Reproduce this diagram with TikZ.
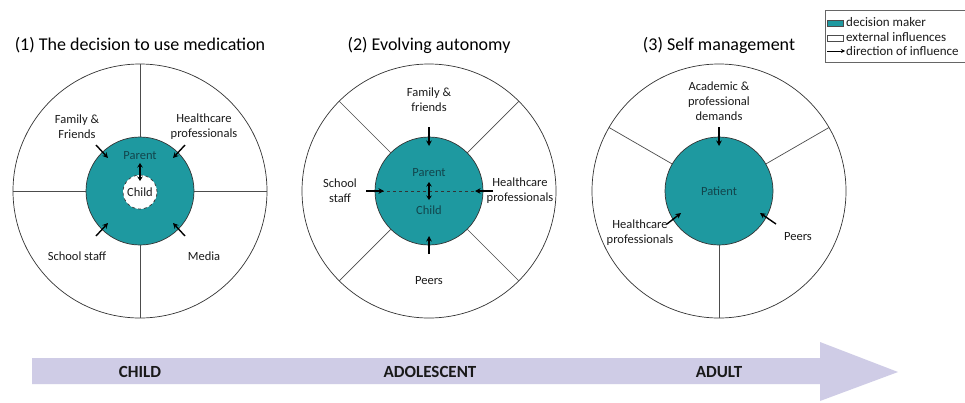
\documentclass[tikz,border=0pt]{standalone}
\usepackage{fontspec}
\setmainfont{Carlito}
\usetikzlibrary{arrows.meta}
\definecolor{teal1}{HTML}{1E99A0}
\definecolor{tealtxt}{HTML}{12454C}
\definecolor{lav}{HTML}{CFCCE6}
\definecolor{txt}{HTML}{1A1A1A}
\tikzset{
  outer/.style={circle, draw=black!80, line width=0.7pt, minimum size=254pt, inner sep=0pt, outer sep=0pt},
  inner/.style={circle, draw=black!80, fill=teal1, line width=0.7pt, minimum size=108pt, inner sep=0pt, outer sep=0pt},
  divider/.style={draw=black!70, line width=0.7pt},
  lbl/.style={font=\fontsize{12.5}{15}\selectfont, text=txt, align=center, inner sep=0pt},
  dm/.style={font=\fontsize{12.5}{15}\selectfont, text=tealtxt, inner sep=0pt},
  ttl/.style={font=\fontsize{18}{21}\selectfont, text=black, inner sep=0pt},
  infl/.style={-{Stealth[length=5.5pt,width=5.5pt]}, line width=1.4pt, black},
  both/.style={{Stealth[length=4.5pt,width=5.5pt]}-{Stealth[length=4.5pt,width=5.5pt]}, line width=1.4pt, black},
  stage/.style={font=\fontsize{17}{20}\selectfont\bfseries, text=black!90, inner sep=0pt},
  leg/.style={font=\fontsize{13}{15}\selectfont, text=txt, anchor=west, inner sep=0pt}
}
\begin{document}
\begin{tikzpicture}[x=1pt,y=-1pt]
\useasboundingbox (0,0) rectangle (965,402);
\fill[white] (0,0) rectangle (965,402);

% Titles
\node[ttl] (t1) at (140,45) {(1) The decision to use medication};
\node[ttl] (t2) at (429,45) {(2) Evolving autonomy};
\node[ttl] (t3) at (719,45) {(3) Self management};

% ---------- Circle 1 ----------
\node[outer] (o1) at (140,191) {};
\node[inner] (i1) at (140,191) {};
\foreach \a in {0,90,180,270} \draw[divider] (i1.\a) -- (o1.\a);
\node[circle, draw=black!80, dashed, fill=white, minimum size=34pt, inner sep=0pt, line width=0.7pt] (c1) at (140,192) {};
\node[lbl] (child1) at (140,192) {Child};
\node[dm] (par1) at (140,156) {Parent};
\node[lbl] (ff1) at (77,127) {Family \&\\Friends};
\node[lbl] (hc1) at (204,127) {Healthcare\\professionals};
\node[lbl] (ss1) at (77,256) {School staff};
\node[lbl] (me1) at (204,256) {Media};
\coordinate (a1s) at (96,145); \coordinate (a1e) at (108,158);
\coordinate (b1s) at (185,145); \coordinate (b1e) at (173,158);
\coordinate (c1s) at (96,236); \coordinate (c1e) at (108,223);
\coordinate (d1s) at (185,236); \coordinate (d1e) at (173,223);
\coordinate (pc1a) at (140,163); \coordinate (pc1b) at (140,181);
\draw[infl] (a1s) -- (a1e);
\draw[infl] (b1s) -- (b1e);
\draw[infl] (c1s) -- (c1e);
\draw[infl] (d1s) -- (d1e);
\draw[both] (pc1a) -- (pc1b);

% ---------- Circle 2 ----------
\node[outer] (o2) at (429,191) {};
\node[inner] (i2) at (429,191) {};
\foreach \a in {45,135,225,315} \draw[divider] (i2.\a) -- (o2.\a);
\draw[dashed, line width=0.7pt, black!80] (i2.180) -- (i2.0);
\node[dm] (par2) at (429,173) {Parent};
\node[dm] (ch2) at (429,210) {Child};
\node[lbl] (ff2) at (429,100) {Family \&\\friends};
\node[lbl] (ss2) at (340,191) {School\\staff};
\node[lbl] (hc2) at (520,191) {Healthcare\\professionals};
\node[lbl] (pe2) at (429,281) {Peers};
\coordinate (a2s) at (429,127); \coordinate (a2e) at (429,146);
\coordinate (b2s) at (366,191); \coordinate (b2e) at (384,191);
\coordinate (c2s) at (493,191); \coordinate (c2e) at (475,191);
\coordinate (d2s) at (429,254); \coordinate (d2e) at (429,236);
\coordinate (pc2a) at (429,182); \coordinate (pc2b) at (429,200);
\draw[infl] (a2s) -- (a2e);
\draw[infl] (b2s) -- (b2e);
\draw[infl] (c2s) -- (c2e);
\draw[infl] (d2s) -- (d2e);
\draw[both] (pc2a) -- (pc2b);

% ---------- Circle 3 ----------
\node[outer] (o3) at (719,191) {};
\node[inner] (i3) at (719,191) {};
\foreach \a in {30,150,270} \draw[divider] (i3.\a) -- (o3.\a);
\node[dm] (pa3) at (719,191) {Patient};
\node[lbl] (ac3) at (719,101) {Academic \&\\professional\\demands};
\node[lbl] (hc3) at (640,233) {Healthcare\\professionals};
\node[lbl] (pe3) at (798,237) {Peers};
\coordinate (a3s) at (719,127); \coordinate (a3e) at (719,146);
\coordinate (b3s) at (667,224); \coordinate (b3e) at (681,213);
\coordinate (c3s) at (776,224); \coordinate (c3e) at (760,213);
\draw[infl] (a3s) -- (a3e);
\draw[infl] (b3s) -- (b3e);
\draw[infl] (c3s) -- (c3e);

% ---------- Legend ----------
\draw[black!60, line width=0.6pt] (825,10) -- (966,10) (825,10) -- (825,62) -- (966,62);
\node[draw=black!70, fill=teal1, minimum width=16pt, minimum height=6pt, inner sep=0pt, line width=0.5pt] (sw1) at (835,23) {};
\node[leg] (l1) at (846,22) {decision maker};
\node[draw=black!70, fill=white, minimum width=16pt, minimum height=6pt, inner sep=0pt, line width=0.5pt] (sw2) at (835,38) {};
\node[leg] (l2) at (846,37) {external influences};
\coordinate (la) at (827,51); \coordinate (lb) at (845,51);
\draw[-{Stealth[length=4pt,width=4pt]}, line width=0.9pt] (la) -- (lb);
\node[leg] (l3) at (846,51) {direction of influence};

% ---------- Timeline arrow ----------
\fill[lav] (32,358) -- (820,358) -- (820,342) -- (898,372) -- (820,401) -- (820,384) -- (32,384) -- cycle;
\node[stage] (s1) at (140,372) {CHILD};
\node[stage] (s2) at (430,372) {ADOLESCENT};
\node[stage] (s3) at (719,372) {ADULT};
\end{tikzpicture}
\end{document}
